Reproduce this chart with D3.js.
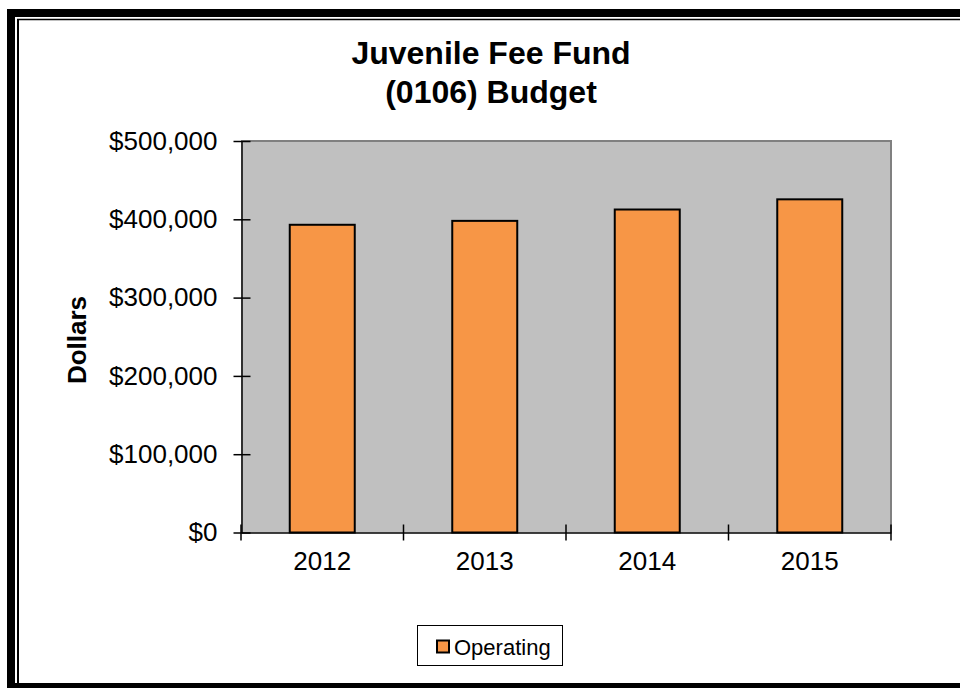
<!DOCTYPE html>
<html>
<head>
<meta charset="utf-8">
<script src="https://cdn.jsdelivr.net/npm/d3@7"></script>
<style>
  html, body { margin: 0; padding: 0; background: #fff; }
  svg { display: block; font-family: "Liberation Sans", Arial, sans-serif; }
</style>
</head>
<body>
<svg id="chart" width="960" height="688"></svg>
<script>
// Budget data
const years = ["2012", "2013", "2014", "2015"];
const operating = [393000, 398000, 412500, 425500];
const yTicks = [0, 100000, 200000, 300000, 400000, 500000];
const titleLines = ["Juvenile Fee Fund", "(0106) Budget"];
const seriesName = "Operating";
const yAxisTitle = "Dollars";

const svg = d3.select("#chart");

// Outer frame (thick) and inner frame (thin)
svg.append("rect")
  .attr("x", 11).attr("y", 13).attr("width", 1000).attr("height", 674)
  .attr("fill", "none").attr("stroke", "#000").attr("stroke-width", 8);
svg.append("line").attr("x1", 18).attr("x2", 18).attr("y1", 19).attr("y2", 684)
  .attr("stroke", "#000").attr("stroke-width", 2);
svg.append("line").attr("x1", 17).attr("x2", 960).attr("y1", 19.5).attr("y2", 19.5)
  .attr("stroke", "#000").attr("stroke-width", 1.5);

const plot = { left: 241, right: 891, top: 141, bottom: 532.5 };

const x = d3.scaleBand()
  .domain(years)
  .range([plot.left, plot.right])
  .paddingInner(0.6)
  .paddingOuter(0.3);

const y = d3.scaleLinear()
  .domain([0, 500000])
  .range([plot.bottom, plot.top]);

// Plot area
svg.append("rect")
  .attr("x", plot.left).attr("y", plot.top)
  .attr("width", plot.right - plot.left).attr("height", plot.bottom - plot.top)
  .attr("fill", "#c0c0c0");
svg.append("path")
  .attr("d", `M${plot.left},${plot.top}H${plot.right}V${plot.bottom}`)
  .attr("fill", "none").attr("stroke", "#808080").attr("stroke-width", 2);

// Bars
svg.append("g").selectAll("rect")
  .data(years)
  .join("rect")
  .attr("x", d => x(d))
  .attr("y", (d, i) => y(operating[i]))
  .attr("width", x.bandwidth())
  .attr("height", (d, i) => y(0) - y(operating[i]))
  .attr("fill", "#f79646")
  .attr("stroke", "#000")
  .attr("stroke-width", 2);

// Y axis
const yAxis = d3.axisLeft(y)
  .tickValues(yTicks)
  .tickSize(0)
  .tickPadding(24)
  .tickFormat(d => "$" + d3.format(",")(d));
const gy = svg.append("g").attr("transform", `translate(${plot.left + 0.5},0)`).call(yAxis);
gy.select(".domain").attr("stroke", "#000").attr("stroke-width", 1.5);
gy.selectAll(".tick text")
  .attr("font-size", 26).attr("fill", "#000").attr("font-family", null);
gy.selectAll(".tick").append("line")
  .attr("x1", -8).attr("x2", 9).attr("stroke", "#000").attr("stroke-width", 1.5);

// X axis: ticks sit on category boundaries
const xAxis = d3.axisBottom(x).tickSize(0).tickPadding(19);
const gx = svg.append("g").attr("transform", `translate(0,${plot.bottom})`).call(xAxis);
gx.select(".domain").attr("stroke", "#000").attr("stroke-width", 1.5);
gx.selectAll(".tick text")
  .attr("font-size", 26).attr("fill", "#000").attr("font-family", null);
const bounds = d3.range(years.length + 1).map(i => x.range()[0] + i * x.step());
gx.selectAll(".boundary")
  .data(bounds)
  .join("line")
  .attr("class", "boundary")
  .attr("x1", d => d).attr("x2", d => d)
  .attr("y1", -8).attr("y2", 8)
  .attr("stroke", "#000").attr("stroke-width", 1.5);

// Title
svg.append("text")
  .attr("x", 492).attr("y", 64)
  .attr("text-anchor", "middle")
  .attr("font-size", 32).attr("font-weight", "bold")
  .selectAll("tspan")
  .data(titleLines)
  .join("tspan")
  .attr("x", 491)
  .attr("dy", (d, i) => i === 0 ? 0 : 39)
  .text(d => d);

// Y axis title
svg.append("text")
  .attr("transform", "translate(86,340) rotate(-90)")
  .attr("text-anchor", "middle")
  .attr("font-size", 26).attr("font-weight", "bold")
  .text(yAxisTitle);

// Legend
const lg = svg.append("g");
lg.append("rect")
  .attr("x", 417.5).attr("y", 625.5).attr("width", 145).attr("height", 40)
  .attr("fill", "#fff").attr("stroke", "#000").attr("stroke-width", 1);
lg.append("rect")
  .attr("x", 437).attr("y", 640.5).attr("width", 12).attr("height", 12)
  .attr("fill", "#f79646").attr("stroke", "#000").attr("stroke-width", 2);
lg.append("text")
  .attr("x", 454).attr("y", 655)
  .attr("font-size", 22)
  .text(seriesName);
</script>
</body>
</html>
